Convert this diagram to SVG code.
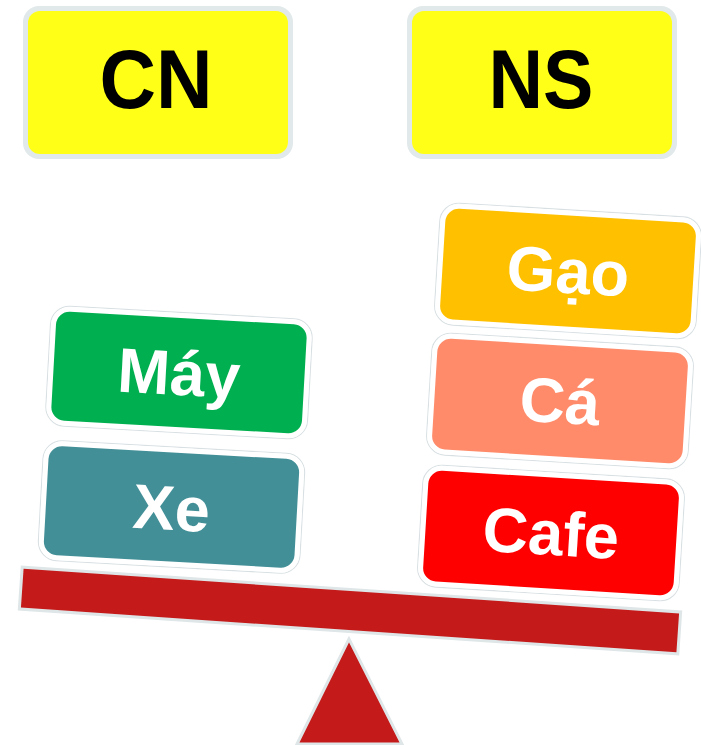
<svg xmlns="http://www.w3.org/2000/svg" width="701" height="745" viewBox="0 0 701 745">
<style>
.lbl{font-family:"Liberation Sans",Arial,sans-serif;font-weight:bold;text-anchor:middle}
.hdr{font-size:84px;fill:#000}
.itm{font-size:63px;fill:#fff}
.frame{fill:#e2e9eb}
.ring{stroke:#fff;stroke-width:5}
.edge{fill:none;stroke:#d9e0e3;stroke-width:1.2}
</style>
<rect width="701" height="745" fill="#fff"/>
<g id="cn">
<rect class="frame" x="23" y="6" width="270" height="153" rx="16"/>
<rect x="28" y="11" width="260" height="143" rx="12" fill="#FFFF17"/>
<text class="lbl hdr" x="156" y="108" textLength="113" lengthAdjust="spacingAndGlyphs">CN</text>
</g>
<g id="ns">
<rect class="frame" x="407" y="6" width="270" height="153" rx="16"/>
<rect x="412" y="11" width="260" height="143" rx="12" fill="#FFFF17"/>
<text class="lbl hdr" x="541" y="108" textLength="105" lengthAdjust="spacingAndGlyphs">NS</text>
</g>
<g id="beam" transform="rotate(3.9 350 610.5)">
<rect x="20" y="589.5" width="660" height="42" fill="#C51A1A" stroke="#dfe6e8" stroke-width="3"/>
</g>
<g id="fulcrum">
<polygon points="349,639 297,744 402,744" fill="#C51A1A" stroke="#dfe6e8" stroke-width="3"/>
</g>
<g id="may" transform="rotate(3.2 179 372.5)">
<rect x="48" y="312.5" width="262" height="120" rx="19" class="edge"/>
<rect x="51" y="315.5" width="256" height="114" rx="16" fill="#00B050" class="ring"/>
<text class="lbl itm" x="179" y="395">Máy</text>
</g>
<g id="xe" transform="rotate(3.2 171.5 507)">
<rect x="40.5" y="447" width="262" height="120" rx="19" class="edge"/>
<rect x="43.5" y="450" width="256" height="114" rx="16" fill="#438F97" class="ring"/>
<text class="lbl itm" x="171.5" y="530">Xe</text>
</g>
<g id="gao" transform="rotate(3.5 568 271)">
<rect x="437" y="210" width="262" height="122" rx="19" class="edge"/>
<rect x="440" y="213" width="256" height="116" rx="16" fill="#FFC000" class="ring"/>
<text class="lbl itm" x="568" y="293">Gạo</text>
</g>
<g id="ca" transform="rotate(3.5 560 401)">
<rect x="429" y="340" width="262" height="122" rx="19" class="edge"/>
<rect x="432" y="343" width="256" height="116" rx="16" fill="#FF8B6A" class="ring"/>
<text class="lbl itm" x="560" y="423">Cá</text>
</g>
<g id="cafe" transform="rotate(3.5 551 533)">
<rect x="420" y="472" width="262" height="122" rx="19" class="edge"/>
<rect x="423" y="475" width="256" height="116" rx="16" fill="#FF0000" class="ring"/>
<text class="lbl itm" x="551" y="555">Cafe</text>
</g>
</svg>
